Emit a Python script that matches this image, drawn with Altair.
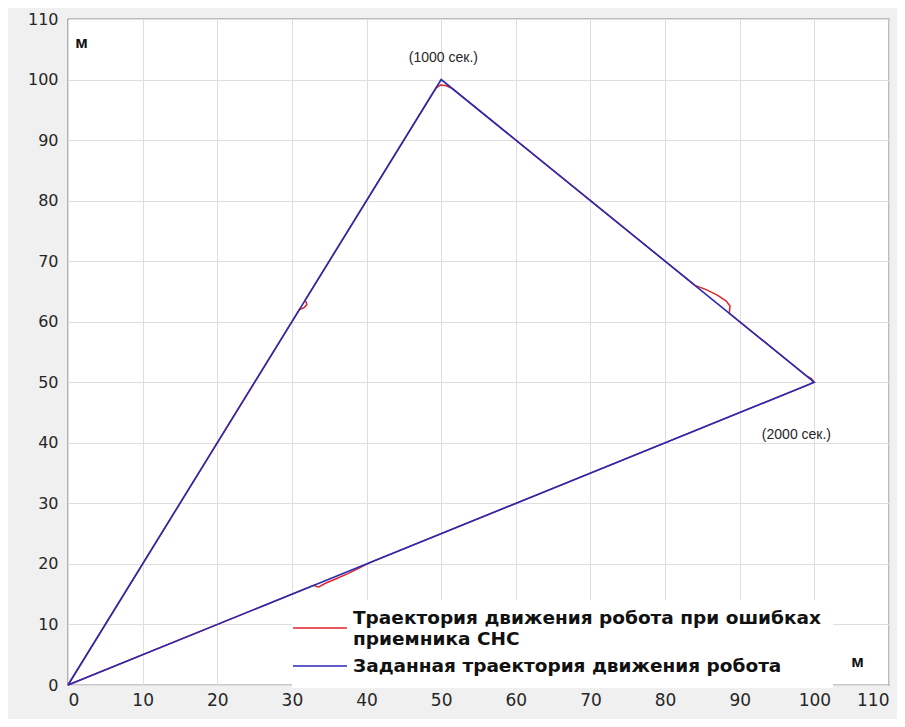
import altair as alt
import pandas as pd

# Series names
series_names = [
    "Траектория движения робота при ошибках приемника СНС",
    "Заданная траектория движения робота",
]
legend_first_lines = ["Траектория движения робота при ошибках", "приемника СНС"]

# Target (given) trajectory
blue_x = [0, 50, 100, 0]
blue_y = [0, 100, 50, 0]

# Trajectory with receiver errors
red_x = [0, 31.0, 31.6, 32.0, 31.9, 31.7, 49.3, 49.9, 50.6, 51.5,
         84.0, 85.5, 87.0, 88.2, 88.7, 88.6, 99.0, 99.6, 99.9, 99.4,
         40.6, 39.0, 37.5, 36.0, 34.5, 33.6, 33.2, 33.0, 0]
red_y = [0, 62.0, 62.3, 62.8, 63.3, 63.4, 98.6, 99.1, 99.0, 98.5,
         66.0, 65.3, 64.4, 63.4, 62.6, 61.4, 51.0, 50.6, 50.1, 49.7,
         20.3, 19.3, 18.4, 17.6, 16.8, 16.2, 16.3, 16.5, 0]

# Annotations
ann_x = [50.3, 97.6]
ann_y = [103.6, 41.3]
ann_text = ["(1000 сек.)", "(2000 сек.)"]
unit_x = [1.8, 105.8]
unit_y = [106.0, 3.8]
unit_text = ["м", "м"]

ticks = list(range(0, 111, 10))

blue_df = pd.DataFrame({"x": blue_x, "y": blue_y, "o": range(len(blue_x)), "s": series_names[1]})
red_df = pd.DataFrame({"x": red_x, "y": red_y, "o": range(len(red_x)), "s": series_names[0]})
ann_df = pd.DataFrame({"x": ann_x, "y": ann_y, "t": ann_text})
unit_df = pd.DataFrame({"x": unit_x, "y": unit_y, "t": unit_text})

xs = alt.Scale(domain=[0, 110], nice=False)
ys = alt.Scale(domain=[0, 110], nice=False)
font = "Liberation Sans"
tick_font = "DejaVu Sans"

xax = alt.Axis(values=ticks, title=None, grid=True, ticks=False, domain=False,
               labelPadding=7, labelFontSize=17, labelFont=tick_font, labelColor="#262626",
               gridColor="#dedede")
yax = alt.Axis(values=ticks, title=None, grid=True, ticks=False, domain=False,
               labelPadding=10, labelFontSize=16, labelFont=tick_font, labelColor="#262626",
               gridColor="#dedede")

label_expr = (
    f"datum.label == '{series_names[0]}' ? "
    f"['{legend_first_lines[0]}', '{legend_first_lines[1]}'] : datum.label"
)

color = alt.Color(
    "s:N",
    scale=alt.Scale(domain=series_names, range=["#e0262a", "#2a2ab5"]),
    legend=alt.Legend(
        title=None, orient="none", legendX=224, legendY=581,
        symbolType="M-1.8,0L1.8,0", symbolSize=900, symbolStrokeWidth=1.5,
        labelFont="DejaVu Sans", labelFontSize=18.5, labelFontWeight="bold", labelColor="#111111",
        labelLimit=700, labelExpr=label_expr, fillColor="white",
        labelBaseline=alt.ExprRef("datum.index == 0 ? 'bottom' : 'middle'"),
        padding=12, rowPadding=2, labelOffset=17,
    ),
)

red = alt.Chart(red_df).mark_line(strokeWidth=1.5).encode(
    x=alt.X("x:Q", scale=xs, axis=xax),
    y=alt.Y("y:Q", scale=ys, axis=yax),
    order="o:Q",
    color=color,
)
blue = alt.Chart(blue_df).mark_line(strokeWidth=1.6).encode(
    x=alt.X("x:Q", scale=xs, axis=xax),
    y=alt.Y("y:Q", scale=ys, axis=yax),
    order="o:Q",
    color=color,
)
ann = alt.Chart(ann_df).mark_text(font=font, fontSize=14, color="#262626").encode(
    x=alt.X("x:Q", scale=xs), y=alt.Y("y:Q", scale=ys), text="t:N"
)
units = alt.Chart(unit_df).mark_text(font=font, fontSize=17, fontWeight="bold", color="#111111").encode(
    x=alt.X("x:Q", scale=xs), y=alt.Y("y:Q", scale=ys), text="t:N"
)

chart = alt.layer(red, blue, ann, units).properties(
    width=821, height=666,
    autosize=alt.AutoSizeParams(type="none"),
    padding={"left": 60, "top": 11, "right": 8, "bottom": 34},
    background="#f0f0f0",
).configure_view(
    fill="white", stroke="#262626", strokeWidth=1.2
)

chart.save("out.html", embed_options={"renderer": "svg", "actions": False})
